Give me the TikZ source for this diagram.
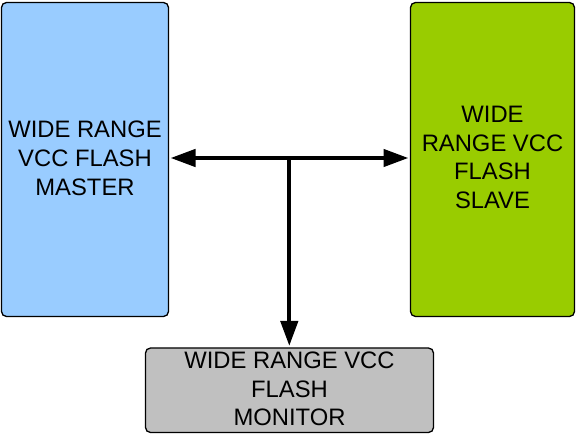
\documentclass[tikz,border=0pt]{standalone}
\usepackage{fontspec}
\setmainfont{Liberation Sans}
\usetikzlibrary{arrows.meta}
\definecolor{masterblue}{HTML}{99CCFF}
\definecolor{slavegreen}{HTML}{99CC00}
\definecolor{monitorgray}{HTML}{C0C0C0}
\begin{document}
\begin{tikzpicture}[x=1pt,y=-1pt,
  blockbox/.style={draw=black,line width=1.3pt,rounded corners=5pt},
  blocktext/.style={align=center,font=\fontsize{23.8}{28.8}\selectfont,inner sep=0pt},
  busline/.style={line width=4.3pt,-{Triangle[length=25pt,width=17pt]}},
  busboth/.style={line width=4.3pt,{Triangle[length=25pt,width=17pt]}-{Triangle[length=25pt,width=17pt]}}]
\useasboundingbox (0,0) rectangle (576,435);
\draw[blockbox,fill=masterblue] (1.5,2.5) rectangle (168.5,316.5);
\draw[blockbox,fill=slavegreen] (410.5,2.5) rectangle (574.5,316.5);
\draw[blockbox,fill=monitorgray] (145.5,348) rectangle (433.5,432.5);
\node[blocktext] (master) at (85,158.5) {WIDE RANGE\\VCC FLASH\\MASTER};
\node[blocktext] (slave) at (492.5,157.5) {WIDE\\RANGE VCC\\FLASH\\SLAVE};
\node[blocktext] (monitor) at (289.5,389) {WIDE RANGE VCC\\FLASH\\MONITOR};
\coordinate (mleft) at (170.5,158);
\coordinate (sright) at (408.5,158);
\coordinate (junc) at (289.3,158);
\coordinate (mtop) at (289.3,346);
\draw[busboth] (mleft) -- (sright);
\draw[busline] ([yshift=-2pt]junc) -- (mtop);
\end{tikzpicture}
\end{document}
